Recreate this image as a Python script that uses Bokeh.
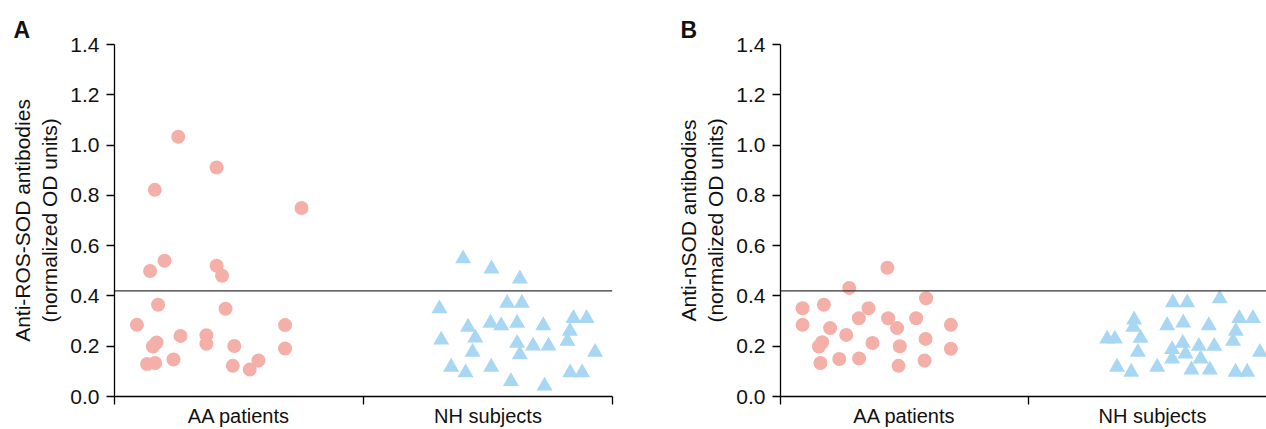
from bokeh.plotting import figure
from bokeh.layouts import row
from bokeh.models import Range1d, FixedTicker, Span, NumeralTickFormatter
from bokeh.embed import file_html
from bokeh.resources import INLINE

# ---------------- data ----------------
categories = ["AA patients", "NH subjects"]
y_ticks = [0.0, 0.2, 0.4, 0.6, 0.8, 1.0, 1.2, 1.4]
threshold = 0.42

# Panel A: anti-ROS-SOD antibodies (x = jitter offset inside category)
ros_aa_x = [0.256, 0.41, 0.162, 0.751, 0.201, 0.143, 0.41, 0.432, 0.175, 0.446,
            0.09, 0.685, 0.265, 0.369, 0.169, 0.154, 0.369, 0.481, 0.685, 0.131,
            0.163, 0.237, 0.475, 0.578, 0.543]
ros_aa_y = [1.033, 0.911, 0.822, 0.750, 0.540, 0.499, 0.520, 0.480, 0.365, 0.349,
            0.285, 0.284, 0.241, 0.244, 0.215, 0.199, 0.210, 0.201, 0.191, 0.129,
            0.133, 0.147, 0.122, 0.143, 0.107]
ros_nh_x = [0.400, 0.514, 0.628, 0.577, 0.636, 0.305, 0.420, 0.510, 0.553, 0.617,
            0.722, 0.843, 0.896, 0.829, 0.312, 0.449, 0.617, 0.681, 0.743, 0.819,
            0.438, 0.628, 0.930, 0.352, 0.410, 0.513, 0.830, 0.878, 0.592, 0.727]
ros_nh_y = [0.548, 0.508, 0.468, 0.371, 0.371, 0.349, 0.276, 0.292, 0.282, 0.292,
            0.282, 0.311, 0.311, 0.260, 0.225, 0.233, 0.212, 0.201, 0.201, 0.220,
            0.176, 0.167, 0.176, 0.117, 0.095, 0.117, 0.095, 0.095, 0.060, 0.042]

# Panel B: anti-nSOD antibodies
nsod_aa_x = [0.431, 0.277, 0.587, 0.089, 0.175, 0.355, 0.316, 0.434, 0.547, 0.470,
             0.089, 0.200, 0.687, 0.265, 0.585, 0.168, 0.155, 0.371, 0.481, 0.687,
             0.161, 0.237, 0.317, 0.476, 0.581]
nsod_aa_y = [0.512, 0.432, 0.391, 0.351, 0.365, 0.351, 0.311, 0.311, 0.311, 0.272,
             0.285, 0.272, 0.285, 0.245, 0.229, 0.216, 0.199, 0.213, 0.200, 0.190,
             0.133, 0.149, 0.151, 0.122, 0.143]
nsod_nh_x = [0.582, 0.640, 0.771, 0.426, 0.423, 0.559, 0.624, 0.727, 0.850, 0.905,
             0.836, 0.825, 0.317, 0.348, 0.452, 0.441, 0.622, 0.579, 0.687, 0.749,
             0.633, 0.579, 0.694, 0.933, 0.357, 0.414, 0.519, 0.657, 0.731, 0.835,
             0.882]
nsod_nh_y = [0.373, 0.373, 0.389, 0.305, 0.276, 0.282, 0.293, 0.282, 0.311, 0.311,
             0.260, 0.220, 0.229, 0.229, 0.232, 0.176, 0.212, 0.187, 0.200, 0.200,
             0.170, 0.150, 0.150, 0.176, 0.117, 0.097, 0.117, 0.106, 0.106, 0.097,
             0.097]

AA_COLOR = "#F3AFA8"
NH_COLOR = "#A7D7F3"
FONT = "Liberation Sans"


def make_panel(letter, ylabel, aa_x, aa_y, nh_x, nh_y, width, b_left, b_right, x_end, title_off):
    p = figure(width=width, height=429,
               x_range=Range1d(0, x_end), y_range=Range1d(0, 1.4),
               output_backend="svg", toolbar_location=None,
               min_border_left=b_left, min_border_right=b_right,
               min_border_top=44, min_border_bottom=33)
    p.outline_line_color = None
    p.grid.visible = False
    p.background_fill_color = "white"
    p.border_fill_color = "white"

    # title letter
    p.title.text = letter
    p.title.text_font = FONT
    p.title.text_font_size = "23px"
    p.title.text_font_style = "bold"
    p.title.text_color = "#111111"
    p.title.align = "left"
    p.title.offset = title_off
    p.title.standoff = 4

    # y axis
    ya = p.yaxis[0]
    ya.ticker = FixedTicker(ticks=y_ticks)
    ya.formatter = NumeralTickFormatter(format="0.0")
    ya.axis_label = ylabel
    ya.axis_label_text_font = FONT
    ya.axis_label_text_font_size = "21px"
    ya.axis_label_text_font_style = "normal"
    ya.axis_label_text_color = "#111111"
    ya.axis_label_standoff = 6
    ya.major_label_text_font = FONT
    ya.major_label_text_font_size = "21px"
    ya.major_label_text_color = "#111111"
    ya.major_label_standoff = 7
    ya.major_tick_out = 8
    ya.major_tick_in = 0
    ya.minor_tick_out = 0
    ya.minor_tick_in = 0
    ya.axis_line_width = 1.3
    ya.major_tick_line_width = 1.3

    # x axis
    xa = p.xaxis[0]
    xa.ticker = FixedTicker(ticks=[0.5, 1.5], minor_ticks=[0, 1, 2])
    xa.major_label_overrides = {0.5: categories[0], 1.5: categories[1]}
    xa.major_label_text_font = FONT
    xa.major_label_text_font_size = "20px"
    xa.major_label_text_color = "#111111"
    xa.major_label_standoff = 0
    xa.major_tick_out = 0
    xa.major_tick_in = 0
    xa.minor_tick_out = 8
    xa.minor_tick_in = 0
    xa.minor_tick_line_color = "black"
    xa.minor_tick_line_width = 1.3
    xa.axis_line_width = 1.3

    p.add_layout(Span(location=threshold, dimension="width",
                      line_color="#333333", line_width=1.4))

    p.scatter([v for v in aa_x], aa_y, marker="circle", size=14,
              fill_color=AA_COLOR, line_color=None)
    p.scatter([1 + v for v in nh_x], nh_y, marker="triangle", size=16,
              fill_color=NH_COLOR, line_color=None)
    return p


pa = make_panel("A", "Anti-ROS-SOD antibodies\n(normalized OD units)",
                ros_aa_x, ros_aa_y, ros_nh_x, ros_nh_y,
                width=660, b_left=114, b_right=48, x_end=2.0, title_off=-101)
pb = make_panel("B", "Anti-nSOD antibodies\n(normalized OD units)",
                nsod_aa_x, nsod_aa_y, nsod_nh_x, nsod_nh_y,
                width=606, b_left=120, b_right=0, x_end=486 / 248, title_off=-100)

layout = row(pa, pb)
open("out.html", "w").write(file_html(layout, INLINE))
